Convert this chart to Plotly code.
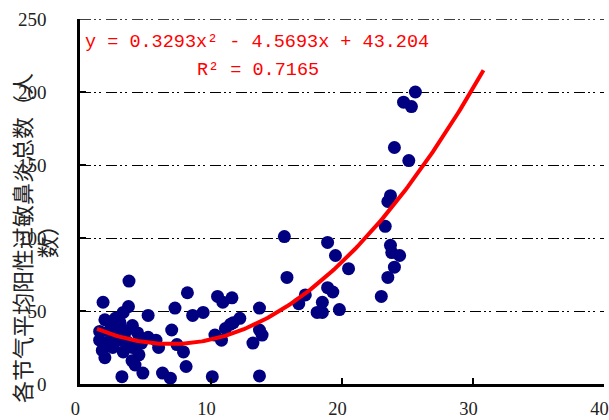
import plotly.graph_objects as go
import numpy as np

# Scatter data (x: solar-term mean value, y: total positive allergic rhinitis cases)
x_vals = [1.5, 1.76, 1.9, 2.4, 2.2, 1.5, 1.7, 1.9, 2.5, 2.5,
          3.3, 3.05, 3.3, 3.6, 3.7, 3.74, 4.0, 4.0, 3.97, 4.2,
          4.4, 3.2, 4.8, 5.2, 5.2, 5.8, 6.0, 6.3, 6.9,
          2.8, 3.0, 2.0, 4.5, 3.5, 2.7, 4.7,
          7.0, 7.25, 7.4, 7.9, 8.1, 8.2, 8.6, 9.4, 10.1, 10.3,
          10.5, 10.8, 10.9, 11.1, 11.5, 11.6, 11.7, 12.2, 13.2, 13.7,
          13.7, 13.9, 13.7,
          15.6, 15.8, 16.7, 17.2, 18.1, 18.5, 18.5, 18.9, 19.3, 18.9,
          19.5, 19.8, 20.5, 23.0, 23.3, 23.5, 23.7, 23.5, 23.7, 23.8,
          24.0, 24.4, 24.0, 25.1, 24.7, 25.3, 25.6]
y_vals = [36, 56, 44, 40, 36, 30, 23, 18, 25, 32,
          49, 42, 22, 29, 53, 70.5, 40, 25, 16, 13,
          35, 5, 7.5, 47, 32, 30, 25, 7.5, 4,
          38, 30, 28, 20, 36, 45, 28,
          37, 52, 27, 22, 12, 62.5, 47, 49, 5, 33.5,
          60, 30, 56, 38, 41, 59, 42, 45, 28, 52,
          37, 33.5, 5.5,
          101, 73, 55, 61, 49, 49, 56, 66, 63, 97,
          88, 51, 79, 60, 108, 125, 129, 73, 95, 90,
          80, 88, 162, 153, 193, 190, 200]

# Polynomial trendline coefficients shown on the chart
coef_a, coef_b, coef_c = 0.3293, -4.5693, 43.204
trend_x_start, trend_x_end = 1.3, 30.8

equation_text = "y = 0.3293x² - 4.5693x + 43.204"
r2_text = "R² = 0.7165"
y_title_line1 = "各节气平均阳性过敏鼻炎总数（人"
y_title_line2 = "数）"
x_ticks = [0, 10, 20, 30, 40]
x_tick_labels = ["0", "10", "20", "30", "40"]
y_ticks = [0, 50, 100, 150, 200, 250]
y_max = 250

tx = np.linspace(trend_x_start, trend_x_end, 200)
ty = coef_a * tx ** 2 + coef_b * tx + coef_c

GRID_DASH = "11px,3px,2px,3px,2px,5px"
NBSP = "\u00a0"

fig = go.Figure()
fig.add_trace(go.Scatter(x=x_vals, y=y_vals, mode="markers",
                         marker=dict(color="#000080", size=13, line=dict(width=0)),
                         showlegend=False, cliponaxis=False))
fig.add_trace(go.Scatter(x=tx, y=ty, mode="lines",
                         line=dict(color="#FF0000", width=4),
                         showlegend=False))

# top gridline at the range maximum
fig.add_shape(type="line", xref="paper", x0=0, x1=1, yref="y", y0=y_max, y1=y_max,
              line=dict(color="black", width=1.3, dash=GRID_DASH), layer="below")

tickfont = dict(family="Liberation Serif", size=19, color="#222")
xtickfont = dict(family="Liberation Serif", size=18.5, color="#222")
eqfont = dict(family="Liberation Mono", size=18.5, color="#FF0000")
titlefont = dict(family="Noto Sans CJK SC", size=22, color="#222")
fig.update_layout(
    width=609, height=420,
    margin=dict(l=80, r=5, t=19, b=36),
    paper_bgcolor="white", plot_bgcolor="white",
    font=dict(family="Liberation Serif", color="#222"),
    xaxis=dict(range=[0, 40], tickvals=x_ticks,
               ticktext=[t + NBSP * 2 for t in x_tick_labels],
               showgrid=False, zeroline=False, automargin=False,
               showline=True, linecolor="black", linewidth=2.5,
               ticks="inside", ticklen=6, tickwidth=2, tickcolor="black",
               tickfont=xtickfont, ticklabelstandoff=6, ticklabeloverflow="allow",
               fixedrange=True),
    yaxis=dict(range=[0, y_max], tickvals=y_ticks, showgrid=True, gridcolor="black",
               gridwidth=1.3, griddash=GRID_DASH, zeroline=False, automargin=False,
               showline=True, linecolor="black", linewidth=2.5,
               ticks="inside", ticklen=6, tickwidth=2, tickcolor="black",
               tickfont=tickfont, ticklabelstandoff=27, fixedrange=True),
    annotations=[
        dict(xref="paper", yref="paper", x=0, y=0.40, xshift=-59,
             text=y_title_line1, textangle=-90, showarrow=False,
             xanchor="center", yanchor="middle", font=titlefont),
        dict(xref="paper", yref="paper", x=0, y=0.405, xshift=-34,
             text=y_title_line2, textangle=-90, showarrow=False,
             xanchor="center", yanchor="middle", font=titlefont),
        dict(xref="paper", yref="paper", x=0, y=1, xshift=3, yshift=-23,
             text=equation_text, showarrow=False,
             xanchor="left", yanchor="middle", font=eqfont),
        dict(xref="paper", yref="paper", x=0, y=1, xshift=115, yshift=-51,
             text=r2_text, showarrow=False,
             xanchor="left", yanchor="middle", font=eqfont),
    ],
)

fig.write_html("out.html", config={"displayModeBar": False},
               post_script="document.body.style.margin='0';document.body.style.overflow='hidden';")
